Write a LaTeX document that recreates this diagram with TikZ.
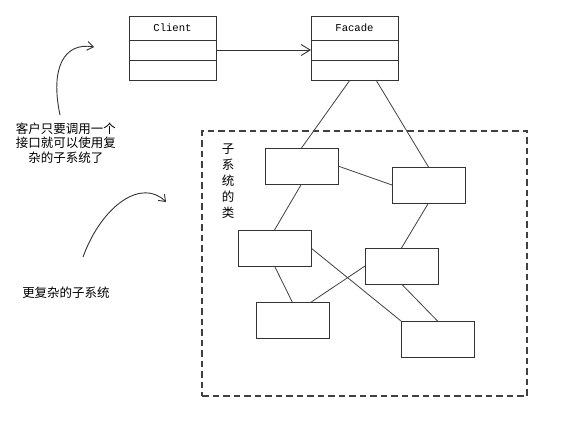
\documentclass[tikz,border=0pt]{standalone}
\usepackage{fontspec}
\setmonofont{Liberation Mono}
\newfontfamily\cjk{Noto Sans CJK SC}
\usetikzlibrary{arrows.meta, positioning}

\begin{document}
\begin{tikzpicture}[
    x=1pt, y=-1pt,
    every node/.style={font=\cjk\fontsize{12.5}{14.5}\selectfont},
    head/.style={rectangle, draw=black!80, line width=1pt, fill=white, outer sep=0pt, inner sep=0pt, minimum width=87pt, minimum height=24pt, font=\ttfamily\fontsize{10.6}{12}\selectfont},
    part/.style={rectangle, draw=black!80, line width=1pt, fill=white, outer sep=0pt, inner sep=0pt, minimum width=87pt, minimum height=20pt},
    subbox/.style={rectangle, draw=black!80, line width=1pt, outer sep=0pt, inner sep=0pt, minimum width=73pt, minimum height=36pt},
    region/.style={rectangle, draw=black!75, line width=1.1pt, dash pattern=on 6.5pt off 4pt, minimum width=325pt, minimum height=265pt},
    link/.style={draw=black!75, line width=0.8pt},
    arrow/.style={draw=black!80, line width=0.9pt, -{Straight Barb[length=9pt, width=11pt]}},
    curve/.style={draw=black!80, line width=0.9pt, -{Straight Barb[length=6pt, width=9pt]}}
  ]

  \useasboundingbox (0,0) rectangle (587,429);

  % classes at the top
  \node[head] (client) at (172.5,28) {Client};
  \node[part, below=0pt of client] (clienta) {};
  \node[part, below=0pt of clienta] (clientb) {};
  \node[head] (facade) at (354.5,28) {Facade};
  \node[part, below=0pt of facade] (facadea) {};
  \node[part, below=0pt of facadea] (facadeb) {};

  \draw[arrow] (clienta.east) -- (facadea.west);

  % subsystem
  \node[region] (sys) at (364.5,263.5) {};
  \node[align=center, font=\cjk\fontsize{12.5}{16}\selectfont] (syslabel) at (228,181) {子\\系\\统\\的\\类};

  \node[subbox] (a) at (301.5,166) {};
  \node[subbox] (b) at (428.5,185) {};
  \node[subbox] (c) at (274.5,248) {};
  \node[subbox] (d) at (401.5,266) {};
  \node[subbox] (e) at (292.5,320.5) {};
  \node[subbox] (f) at (437.5,339) {};

  \draw[link] ([xshift=-4.5pt]facadeb.south) -- (a.north);
  \draw[link] ([xshift=21.5pt]facadeb.south) -- (b.north);
  \draw[link] (a.east) -- (b.west);
  \draw[link] (a.south) -- (c.north);
  \draw[link] (b.south) -- (d.north);
  \draw[link] (c.south) -- (e.north);
  \draw[link] (c.east) -- (f.north west);
  \draw[link] (d.west) -- ([xshift=18pt]e.north);
  \draw[link] (d.south) -- (f.north);

  % notes on the left
  \node[align=center] (hint) at (66,143) {客户只要调用一个\\接口就可以使用复\\杂的子系统了};
  \node (more) at (66,293) {更复杂的子系统};

  \coordinate (hintfoot) at (60,115);
  \coordinate (hinttip) at (94,47);
  \coordinate (morefoot) at (83,257);
  \coordinate (moretip) at (166,202);

  \draw[curve] (hintfoot) .. controls (50,68) and (64,42) .. (hinttip);
  \draw[curve] (morefoot) .. controls (102,205) and (142,178) .. (moretip);

\end{tikzpicture}
\end{document}
